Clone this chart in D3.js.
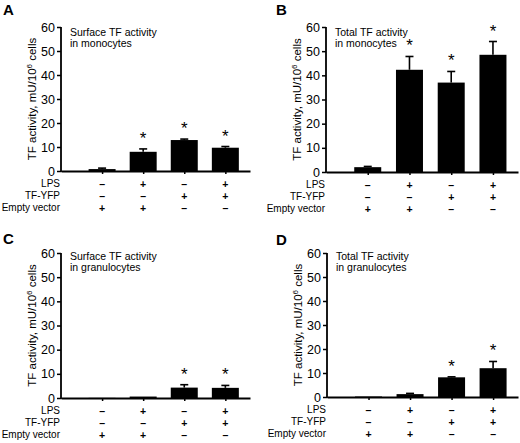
<!DOCTYPE html>
<html>
<head>
<meta charset="utf-8">
<script src="https://cdn.jsdelivr.net/npm/d3@7"></script>
<style>
  body { margin: 0; background: #fff; }
  text { font-family: "Liberation Sans", Arial, sans-serif; fill: #000; }
</style>
</head>
<body>
<div id="chart"></div>
<script>
// conditions, in x order
var groups = [1, 2, 3, 4];
var rowLabels = ["LPS", "TF-YFP", "Empty vector"];
var lpsSigns = ["–", "+", "–", "+"];
var yfpSigns = ["–", "–", "+", "+"];
var emptySigns = ["+", "+", "–", "–"];
var yTicks = [0, 10, 20, 30, 40, 50, 60];

// panel A: surface TF, monocytes
var valuesA = [0.8, 8.0, 12.9, 9.7];
var errA = [0.4, 1.2, 0.4, 0.5];
var starA = [0, 1, 1, 1];
// panel B: total TF, monocytes
var valuesB = [2.0, 42.3, 37.0, 48.5];
var errB = [0.3, 5.5, 4.6, 5.5];
var starB = [0, 1, 1, 1];
// panel C: surface TF, granulocytes
var valuesC = [0.05, 0.6, 4.3, 4.2];
var errC = [0, 0.1, 1.2, 1.0];
var starC = [0, 0, 1, 1];
// panel D: total TF, granulocytes
var valuesD = [0.2, 1.2, 8.2, 12.0];
var errD = [0.1, 0.3, 0.2, 2.8];
var starD = [0, 0, 1, 1];

var svg = d3.select("#chart").append("svg")
    .attr("width", 520)
    .attr("height", 443);

function drawPanel(p) {
    var width = p.width, height = p.height;

    var x = d3.scaleLinear().domain([0, 4.6]).range([0, width]);
    var y = d3.scaleLinear().domain([0, 60]).range([height, 0]);

    var rowsData = groups.map(function(gr, i) {
        return {pos: gr, v: p.values[i], e: p.err[i], star: p.stars[i]};
    });

    svg.append("text")
        .attr("x", p.letterX)
        .attr("y", p.letterY)
        .style("font-size", "15px")
        .style("font-weight", "bold")
        .text(p.letter);

    var g = svg.append("g")
        .attr("transform", "translate(" + p.left + "," + p.top + ")");

    // bars
    g.selectAll(".bar")
        .data(rowsData)
      .enter().append("rect")
        .attr("class", "bar")
        .attr("x", function(d) { return x(d.pos) - 13.5; })
        .attr("width", 27)
        .attr("y", function(d) { return y(d.v); })
        .attr("height", function(d) { return height - y(d.v); })
        .style("fill", "#000");

    // error bars (upper only)
    var eb = g.selectAll(".err")
        .data(rowsData.filter(function(d) { return d.e > 0.15; }))
      .enter().append("g")
        .attr("class", "err")
        .attr("transform", function(d) { return "translate(" + x(d.pos) + ",0)"; });
    eb.append("line")
        .attr("y1", function(d) { return y(d.v); })
        .attr("y2", function(d) { return y(d.v + d.e); })
        .style("stroke", "#000").style("stroke-width", 1.6);
    eb.append("line")
        .attr("x1", -4).attr("x2", 4)
        .attr("y1", function(d) { return y(d.v + d.e); })
        .attr("y2", function(d) { return y(d.v + d.e); })
        .style("stroke", "#000").style("stroke-width", 1.6);

    // asterisks
    g.selectAll(".star")
        .data(rowsData.filter(function(d) { return d.star; }))
      .enter().append("text")
        .attr("class", "star")
        .attr("x", function(d) { return x(d.pos); })
        .attr("y", function(d) { return y(d.v + d.e) - 5; })
        .attr("text-anchor", "middle")
        .style("font-size", "17px")
        .text("*");

    // axes
    var yAxis = d3.axisLeft(y).tickValues(yTicks).tickSize(4).tickSizeOuter(0);
    var ya = g.append("g").attr("class", "y axis").call(yAxis);
    ya.select(".domain").attr("d", "M0," + (height + 1) + "V0").style("stroke-width", 1.8);
    ya.selectAll(".tick line").style("stroke-width", 1.5);
    ya.selectAll(".tick text")
        .attr("x", -6)
        .style("font-family", "'Liberation Sans', Arial, sans-serif")
        .style("font-size", "12.5px");

    var xAxis = d3.axisBottom(x).tickValues(groups).tickSize(3).tickSizeOuter(0).tickFormat("");
    var xa = g.append("g").attr("class", "x axis")
        .attr("transform", "translate(0," + height + ")")
        .call(xAxis);
    xa.select(".domain").style("stroke-width", 1.8);
    xa.selectAll(".tick line").style("stroke-width", 1.5);

    // y label
    var yl = g.append("text")
        .attr("transform", "translate(-25," + (height / 2) + ") rotate(-90)")
        .attr("text-anchor", "middle")
        .style("font-size", "11.5px");
    yl.append("tspan").text("TF activity, mU/10");
    yl.append("tspan").attr("dy", -4).style("font-size", "8px").text("6");
    yl.append("tspan").attr("dy", 4).text(" cells");

    // annotation
    g.selectAll(".note")
        .data(p.note)
      .enter().append("text")
        .attr("class", "note")
        .attr("x", 9)
        .attr("y", function(d, i) { return p.noteY + i * 11; })
        .style("font-size", "10.5px")
        .text(function(d) { return d; });

    // condition table
    var rows = [lpsSigns, yfpSigns, emptySigns];
    rowLabels.forEach(function(lab, r) {
        var by = height + 16 + r * 12;
        g.append("text")
            .attr("x", -1)
            .attr("y", by)
            .attr("text-anchor", "end")
            .style("font-size", "10px")
            .text(lab);
        g.selectAll(".sign" + r)
            .data(rows[r])
          .enter().append("text")
            .attr("x", function(d, i) { return x(groups[i]); })
            .attr("y", by + 0.5)
            .attr("text-anchor", "middle")
            .style("font-size", "10.5px")
            .style("font-weight", "bold")
            .text(function(d) { return d; });
    });
}

drawPanel({letter: "A", letterX: 3, letterY: 15, left: 61, top: 27, width: 189, height: 144,
    values: valuesA, err: errA, stars: starA, note: ["Surface TF activity", "in monocytes"], noteY: 9});
drawPanel({letter: "B", letterX: 276, letterY: 15, left: 326, top: 27, width: 192, height: 145,
    values: valuesB, err: errB, stars: starB, note: ["Total TF activity", "in monocytes"], noteY: 9});
drawPanel({letter: "C", letterX: 3, letterY: 244, left: 61, top: 253, width: 189, height: 145,
    values: valuesC, err: errC, stars: starC, note: ["Surface TF activity", "in granulocytes"], noteY: 7});
drawPanel({letter: "D", letterX: 276, letterY: 245, left: 327, top: 253, width: 191, height: 144,
    values: valuesD, err: errD, stars: starD, note: ["Total TF activity", "in granulocytes"], noteY: 7});
</script>
</body>
</html>
